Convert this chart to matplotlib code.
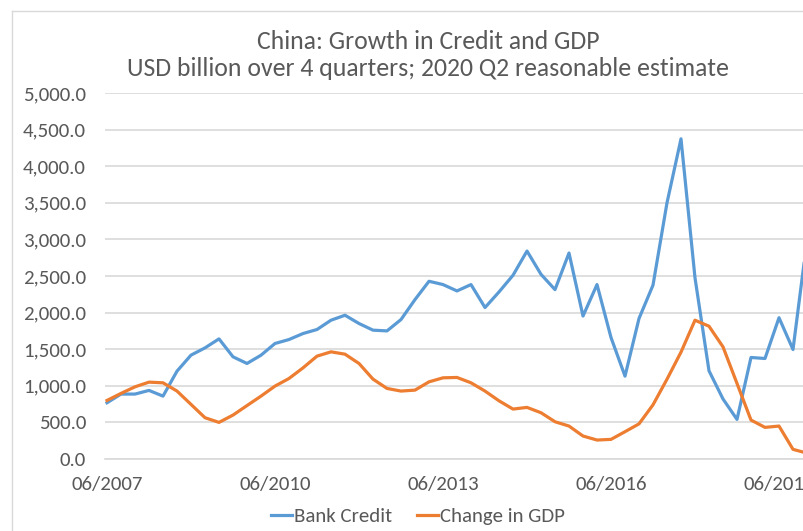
import matplotlib
matplotlib.use("Agg")
import matplotlib.pyplot as plt
from matplotlib import font_manager
from matplotlib.lines import Line2D
from matplotlib.ticker import FuncFormatter

# Calibri-like font if there is one
installed = {f.name for f in font_manager.fontManager.ttflist}
for fam in ['Carlito', 'Liberation Sans Narrow', 'Archivo Narrow', 'DejaVu Sans']:
    if fam in installed:
        break
plt.rcParams['font.family'] = [fam, 'DejaVu Sans']

# quarterly, starting 06/2007
bank_credit = [768, 887, 887, 937, 859, 1200, 1419, 1518, 1641, 1396,
               1305, 1418, 1578, 1632, 1714, 1769, 1896, 1964, 1851, 1760,
               1750, 1905, 2178, 2428, 2383, 2296, 2383, 2069, 2282, 2510,
               2841, 2523, 2314, 2814, 1953, 2383, 1660, 1132, 1919, 2375,
               3500, 4374, 2475, 1205, 820, 541, 1387, 1373, 1930, 1496,
               2990]
gdp_change = [800, 896, 986, 1050, 1041, 928, 746, 564, 500, 600,
              730, 859, 996, 1100, 1245, 1405, 1464, 1432, 1305, 1091,
              964, 928, 941, 1054, 1109, 1114, 1041, 928, 795, 682,
              705, 632, 509, 450, 314, 259, 268, 373, 480, 740,
              1090, 1460, 1896, 1814, 1532, 1032, 532, 432, 450, 132,
              80]
tick_pos = [0, 12, 24, 36, 48]
tick_labels = ['06/2007', '06/2010', '06/2013', '06/2016', '06/2019']

blue = '#5B9BD5'
orange = '#ED7D31'
grey_txt = '#595959'

W, H = 804, 531
fig = plt.figure(figsize=(W / 100, H / 100), dpi=100)

# plot area (chart is cropped on the right)
left, right, top, bottom = 105, 804, 93, 459
ax = fig.add_axes([left / W, 1 - bottom / H, (right - left) / W, (bottom - top) / H])

x = list(range(len(bank_credit)))
ax.plot(x, bank_credit, color=blue, lw=2.3, solid_joinstyle='round')
ax.plot(x, gdp_change, color=orange, lw=2.3, solid_joinstyle='round')

ax.set_xlim(-2 / 14, (right - 107) / 14)
ax.set_ylim(0, 5000)
ax.set_yticks(range(0, 5001, 500))
ax.yaxis.set_major_formatter(FuncFormatter(lambda v, p: f'{v:,.1f}'))
ax.set_xticks(tick_pos)
ax.set_xticklabels(tick_labels)
ax.grid(axis='y', color='#D9D9D9', lw=1.2)
ax.set_axisbelow(True)
for s in ['top', 'right', 'left']:
    ax.spines[s].set_visible(False)
ax.spines['bottom'].set_color('#D9D9D9')
ax.spines['bottom'].set_linewidth(1.2)
ax.tick_params(length=0, labelsize=15, colors=grey_txt)
ax.tick_params(axis='y', pad=13.7)
ax.tick_params(axis='x', pad=12)

fig.text(428 / W, 1 - 55 / H,
         'China: Growth in Credit and GDP\nUSD billion over 4 quarters; 2020 Q2 reasonable estimate',
         ha='center', va='center', fontsize=18.5, color=grey_txt, linespacing=1.25)

handles = [Line2D([], [], color=blue, lw=2.3), Line2D([], [], color=orange, lw=2.3)]
fig.legend(handles, ['Bank Credit', 'Change in GDP'], loc='center',
           bbox_to_anchor=(418 / W, 1 - 516 / H), ncol=2, frameon=False,
           fontsize=15, handlelength=1.0, handletextpad=0.1, columnspacing=1.2,
           labelcolor=grey_txt)

# chart area border (top and left visible)
fig.add_artist(Line2D([12 / W, 12 / W], [0, 1 - 11 / H], transform=fig.transFigure,
                      color='#D9D9D9', lw=1))
fig.add_artist(Line2D([12 / W, 1], [1 - 11 / H, 1 - 11 / H], transform=fig.transFigure,
                      color='#D9D9D9', lw=1))

fig.savefig('out.png', dpi=100)
